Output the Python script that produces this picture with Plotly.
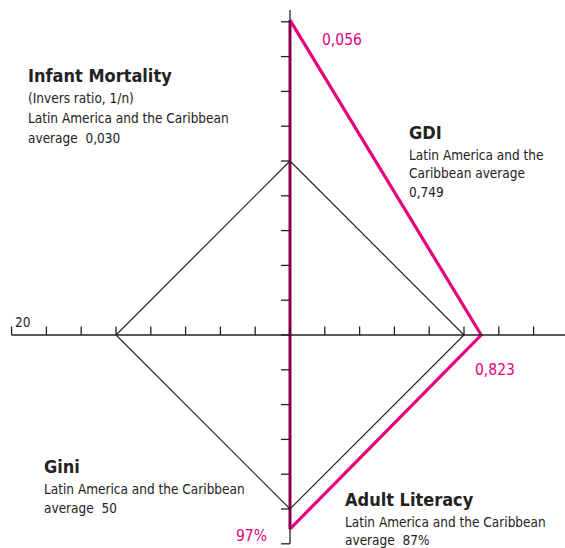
import plotly.graph_objects as go

# ---------------- data ----------------
indicators = ["Infant Mortality", "GDI", "Adult Literacy", "Gini"]
region_avg = [0.030, 0.749, 87, 50]          # Latin America and the Caribbean average
country_val = [0.056, 0.823, 97, None]       # country values (Gini not available)
country_labels = ["0,056", "0,823", "97%", None]

# axis scales: value at the centre and value per tick step
axis_origin = [-0.0021, 0.0, 0.0, 100]
axis_step = [0.00642, 0.1498, 17.4, -10]
axis_dir = [(0, 1), (1, 0), (0, -1), (-1, 0)]   # up, right, down, left

h_ticks = list(range(-8, 8))     # horizontal axis ticks (tick units)
v_ticks = list(range(-6, 10))    # vertical axis ticks
left_end_label = "20"

# ---------------- layout constants ----------------
W, H = 565, 548
CX, CY = 290, 335        # centre in pixels
UNIT = 34.8              # pixels per tick
MAGENTA = "#E6007E"
INK = "#222222"
FONT = "DejaVu Sans Condensed, Liberation Sans Narrow, sans-serif"


def to_units(i, v):
    if v is None:
        return 0.0
    return (v - axis_origin[i]) / axis_step[i]


def vertex(i, v):
    r = to_units(i, v)
    dx, dy = axis_dir[i]
    return dx * r, dy * r


fig = go.Figure()

# country polygon (magenta)
cx, cy = [], []
for i, v in enumerate(country_val):
    x, y = vertex(i, v)
    cx.append(x)
    cy.append(y)
cx.append(cx[0]); cy.append(cy[0])
fig.add_trace(go.Scatter(x=cx, y=cy, mode="lines",
                         line=dict(color=MAGENTA, width=3.2),
                         hoverinfo="skip", showlegend=False))

# regional average diamond (black)
ax_, ay_ = [], []
for i, v in enumerate(region_avg):
    x, y = vertex(i, v)
    ax_.append(x)
    ay_.append(y)
ax_.append(ax_[0]); ay_.append(ay_[0])
fig.add_trace(go.Scatter(x=ax_, y=ay_, mode="lines",
                         line=dict(color=INK, width=1.2),
                         hoverinfo="skip", showlegend=False))

# axes lines
x_min = -CX / UNIT
x_max = (W - CX) / UNIT
y_min = (CY - H) / UNIT
y_max = CY / UNIT
fig.add_trace(go.Scatter(x=[h_ticks[0], x_max + 0.2], y=[0, 0], mode="lines",
                         line=dict(color=INK, width=1.3), hoverinfo="skip", showlegend=False))
fig.add_trace(go.Scatter(x=[0, 0], y=[v_ticks[0], (CY - 10) / UNIT], mode="lines",
                         line=dict(color=INK, width=1.3), hoverinfo="skip", showlegend=False))

# ticks
tx, ty = [], []
for k in h_ticks:
    tx += [k, k, None]
    ty += [0, 8.5 / UNIT, None]
for k in v_ticks:
    tx += [0, -9 / UNIT, None]
    ty += [k, k, None]
fig.add_trace(go.Scatter(x=tx, y=ty, mode="lines",
                         line=dict(color=INK, width=1.3), hoverinfo="skip", showlegend=False))

# ---------------- text ----------------
TS, BS, NS = 18, 13.5, 15.5   # title, body, number sizes
texts = [
    # (text, x px, baseline px, size, bold, color)
    ("Infant Mortality", 27, 82, TS, True, INK),
    ("(Invers ratio, 1/n)", 27, 103, BS, False, INK),
    ("Latin America and the Caribbean", 27, 123, BS, False, INK),
    (f"average  {region_avg[0]:.3f}".replace(".", ","), 27, 143, BS, False, INK),
    ("GDI", 408, 139, TS, True, INK),
    ("Latin America and the", 408, 160, BS, False, INK),
    ("Caribbean average", 408, 178, BS, False, INK),
    (f"{region_avg[1]:.3f}".replace(".", ","), 408, 197, BS, False, INK),
    ("Gini", 43, 473, TS, True, INK),
    ("Latin America and the Caribbean", 43, 494, BS, False, INK),
    (f"average  {region_avg[3]}", 43, 513, BS, False, INK),
    ("Adult Literacy", 344, 506, TS, True, INK),
    ("Latin America and the Caribbean", 344, 527, BS, False, INK),
    (f"average  {region_avg[2]}%", 344, 545, BS, False, INK),
    (country_labels[0], 321, 45, NS, False, MAGENTA),
    (country_labels[1], 474, 375, NS, False, MAGENTA),
    (country_labels[2], 235, 541, NS, False, MAGENTA),
    (left_end_label, 14, 327, 13.5, False, INK),
]
for t, px, base, size, bold, color in texts:
    if t is None:
        continue
    fig.add_annotation(
        text=f"<b>{t}</b>" if bold else t,
        xref="paper", yref="paper",
        x=px / W, y=1 - (base - 0.35 * size) / H,
        xanchor="left", yanchor="middle",
        showarrow=False, borderpad=0,
        font=dict(family=FONT, size=size, color=color),
    )

fig.update_layout(
    width=W, height=H,
    margin=dict(l=0, r=0, t=0, b=0),
    paper_bgcolor="white", plot_bgcolor="white",
    xaxis=dict(range=[x_min, x_max], visible=False, fixedrange=True),
    yaxis=dict(range=[y_min, y_max], visible=False, fixedrange=True),
    showlegend=False,
)

fig.write_html(
    "out.html",
    config={"displayModeBar": False},
    post_script="document.body.style.margin='0';document.body.style.padding='0';",
)
